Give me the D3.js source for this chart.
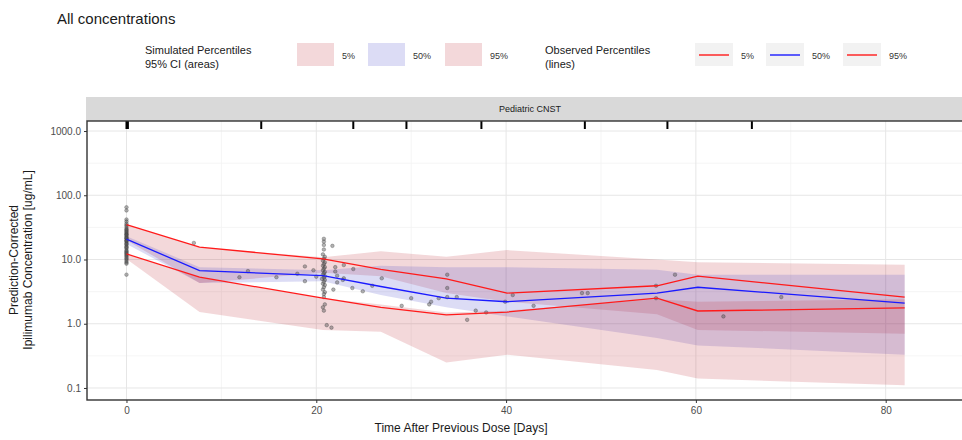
<!DOCTYPE html>
<html>
<head>
<meta charset="utf-8">
<script src="https://cdn.jsdelivr.net/npm/d3@7"></script>
<style>
  body { margin: 0; background: #fff; }
  text { font-family: "Liberation Sans", Arial, Helvetica, sans-serif; }
</style>
</head>
<body>
<svg id="chart" width="962" height="440"></svg>
<script>
// Bin median times (days) shared by observed and simulated percentiles
const binTimes = [0, 7.7, 20.7, 26.8, 33.7, 40.1, 55.9, 60.2, 82.0];

// Observed percentiles (lines)
const obsP95 = [35, 15.6, 10.2, 7.0, 5.0, 3.0, 3.9, 5.5, 2.6];
const obsP50 = [20.8, 6.7, 5.6, 3.8, 2.5, 2.2, 3.0, 3.7, 2.1];
const obsP05 = [12.2, 5.3, 2.5, 1.8, 1.37, 1.52, 2.5, 1.58, 1.76];

// Simulated percentiles, 95% CI (areas)
const simP95Hi = [35, 15.5, 10.8, 13.5, 11, 14, 10, 9.1, 8.3];
const simP95Lo = [20, 4.3, 6.2, 5.5, 3.0, 2.2, 1.4, 0.8, 0.7];
const simP50Hi = [23, 7.6, 6.8, 8.0, 7.6, 7.6, 6.9, 5.8, 5.8];
const simP50Lo = [17.5, 4.3, 4.6, 2.8, 1.8, 1.3, 0.6, 0.46, 0.33];
const simP05Hi = [12.2, 5.3, 2.5, 2.0, 1.5, 1.6, 2.4, 2.2, 2.4];
const simP05Lo = [10.2, 1.52, 0.8, 0.75, 0.25, 0.33, 0.19, 0.14, 0.11];

// Bin boundaries shown as a rug along the top of the panel
const binEdges = [0, 0.15, 14.2, 23.9, 29.5, 37.4, 48.3, 57.0, 65.9];

// Prediction-corrected observations
const obsTime = [
  0,0,0,0,0,0,0,0,0,0,0,0,0,0,0,0,0,0,0,0,0,0,0,0,0,0,0,0,0,0,0,0,0,0,0,0,0,0,0,0,0,
  7.1, 11.9, 12.8, 15.8, 18.0, 18.8, 18.8, 19.7, 20.0,
  20.8,20.8,20.8,20.8,20.7,20.9,20.8,20.7,20.9,20.8,20.7,20.9,20.8,20.7,20.9,20.8,20.7,20.9,
  20.8,20.6,20.9,20.8,20.7,20.9,20.8,20.7,20.9,20.8,20.8,20.9,20.7,20.8,21.1,21.6,21.7,
  22.0,22.0,22.2,22.9,22.9,22.8,23.9,23.8,24.9,25.9,26.9,21.8,22.2,
  29.0,30.0,31.9,32.1,32.9,33.8,33.8,33.8,34.8,35.9,36.8,37.9,39.9,40.7,42.9,48.0,48.6,
  55.8,55.8,57.8,62.9,69.0
];
const obsConc = [
  65,58,42,39,36,34,32,30,29,28,27,26,25,24.5,24,23,22,21.5,21,20,19.5,19,18,17.5,17,16,15.5,15,
  14,13.5,13,12.5,12,11.5,11,10.5,10,9.5,9,8.6,5.8,
  18.1, 5.3, 6.6, 5.3, 6.0, 7.8, 4.6, 6.8, 5.4,
  21,19,16.8,14.3,12,11,10.3,9.6,9,8.5,8,7.6,7.2,6.8,6.4,6.1,5.8,5.5,
  5.2,5,4.8,4.5,4.2,4,3.7,3.4,3.1,2.9,2.6,2.0,1.8,1.6,0.95,0.87,16.3,
  7.6,6.5,5.6,8.2,5.1,4.8,7.1,3.6,3.2,3.9,5.1,3.4,4.4,
  1.9,2.5,2.0,2.2,2.5,5.8,3.6,2.6,2.6,1.15,1.6,1.5,2.2,2.8,1.9,3.0,3.0,
  3.9,2.5,5.8,1.3,2.6
];

const xTicks = [0, 20, 40, 60, 80];
const xMinor = [10, 30, 50, 70];
const yTicks = [0.1, 1, 10, 100, 1000];
const yMinor = [0.316, 3.16, 31.6, 316];

const simLabels = ["5%", "50%", "95%"];
const obsLabels = ["5%", "50%", "95%"];

const pinkFill = "rgb(190,40,50)";
const blueFill = "rgb(60,60,200)";
const bandOpacity = 0.18;

const svg = d3.select("#chart");
const panel = { left: 87, right: 973, top: 121, bottom: 400 };

const x = d3.scaleLinear().domain([-4.16, 89.2]).range([panel.left, panel.right]);
const y = d3.scaleLog().domain([0.065, 1432]).range([panel.bottom, panel.top]);

// Title
svg.append("text").attr("x", 57).attr("y", 24)
  .attr("font-size", 15).attr("fill", "#1a1a1a").text("All concentrations");

// Legends
const lg = svg.append("g").attr("font-size", 11).attr("fill", "#1a1a1a");
lg.append("text").attr("x", 145).attr("y", 54).text("Simulated Percentiles");
lg.append("text").attr("x", 145).attr("y", 68).text("95% CI (areas)");
const simKeyX = [297, 368, 445];
const simKeyFill = [pinkFill, blueFill, pinkFill];
simLabels.forEach((l, i) => {
  lg.append("rect").attr("x", simKeyX[i]).attr("y", 43).attr("width", 37).attr("height", 23)
    .attr("fill", simKeyFill[i]).attr("fill-opacity", bandOpacity);
  lg.append("text").attr("x", simKeyX[i] + 45).attr("y", 58.5)
    .attr("font-size", 9).attr("fill", "#333").text(l);
});
lg.append("text").attr("x", 545).attr("y", 54).text("Observed Percentiles");
lg.append("text").attr("x", 545).attr("y", 68).text("(lines)");
const obsKeyX = [695, 766, 843];
const obsKeyColor = ["#ff1a1a", "#1a1aff", "#ff1a1a"];
obsLabels.forEach((l, i) => {
  lg.append("rect").attr("x", obsKeyX[i]).attr("y", 43).attr("width", 38).attr("height", 23)
    .attr("fill", "#f2f2f2");
  lg.append("line").attr("x1", obsKeyX[i] + 4).attr("x2", obsKeyX[i] + 34)
    .attr("y1", 55).attr("y2", 55).attr("stroke", obsKeyColor[i]).attr("stroke-width", 1.4);
  lg.append("text").attr("x", obsKeyX[i] + 46).attr("y", 58.5)
    .attr("font-size", 9).attr("fill", "#333").text(l);
});

// Strip
svg.append("rect").attr("x", panel.left - 1).attr("y", 97)
  .attr("width", panel.right - panel.left + 2).attr("height", panel.top - 97)
  .attr("fill", "#d9d9d9");
svg.append("text").attr("x", (panel.left + panel.right) / 2).attr("y", 112)
  .attr("text-anchor", "middle").attr("font-size", 9).attr("fill", "#1a1a1a")
  .text("Pediatric CNST");

// Panel clip
svg.append("defs").append("clipPath").attr("id", "clip")
  .append("rect").attr("x", panel.left).attr("y", panel.top)
  .attr("width", panel.right - panel.left).attr("height", panel.bottom - panel.top);

const grid = svg.append("g");
xMinor.forEach(v => grid.append("line").attr("x1", x(v)).attr("x2", x(v))
  .attr("y1", panel.top).attr("y2", panel.bottom).attr("stroke", "#f2f2f2").attr("stroke-width", 0.8));
yMinor.forEach(v => grid.append("line").attr("x1", panel.left).attr("x2", panel.right)
  .attr("y1", y(v)).attr("y2", y(v)).attr("stroke", "#f2f2f2").attr("stroke-width", 0.8));
xTicks.forEach(v => grid.append("line").attr("x1", x(v)).attr("x2", x(v))
  .attr("y1", panel.top).attr("y2", panel.bottom).attr("stroke", "#e6e6e6").attr("stroke-width", 1));
yTicks.forEach(v => grid.append("line").attr("x1", panel.left).attr("x2", panel.right)
  .attr("y1", y(v)).attr("y2", y(v)).attr("stroke", "#e6e6e6").attr("stroke-width", 1));

const plot = svg.append("g").attr("clip-path", "url(#clip)");

// Simulated bands
const band = (lo, hi) => d3.area()
  .x((d, i) => x(binTimes[i]))
  .y0((d, i) => y(lo[i]))
  .y1((d, i) => y(hi[i]))(binTimes);
[[simP95Lo, simP95Hi, pinkFill], [simP50Lo, simP50Hi, blueFill], [simP05Lo, simP05Hi, pinkFill]]
  .forEach(([lo, hi, c]) => plot.append("path").attr("d", band(lo, hi))
    .attr("fill", c).attr("fill-opacity", bandOpacity));

// Observations
plot.append("g").selectAll("circle").data(obsTime).join("circle")
  .attr("cx", d => x(d)).attr("cy", (d, i) => y(obsConc[i])).attr("r", 1.8)
  .attr("fill", "#555").attr("fill-opacity", 0.45)
  .attr("stroke", "#333").attr("stroke-opacity", 0.5).attr("stroke-width", 0.6);

// Observed percentile lines
const line = vals => d3.line().x((d, i) => x(binTimes[i])).y((d, i) => y(vals[i]))(binTimes);
[[obsP05, "#ff1a1a"], [obsP95, "#ff1a1a"], [obsP50, "#1a1aff"]].forEach(([v, c]) =>
  plot.append("path").attr("d", line(v)).attr("fill", "none")
    .attr("stroke", c).attr("stroke-width", 1.3));

// Bin rug
plot.append("g").selectAll("line").data(binEdges).join("line")
  .attr("x1", d => x(d)).attr("x2", d => x(d))
  .attr("y1", panel.top).attr("y2", panel.top + 8)
  .attr("stroke", "#000").attr("stroke-width", 2);

// Panel border
svg.append("rect").attr("x", panel.left).attr("y", panel.top)
  .attr("width", panel.right - panel.left).attr("height", panel.bottom - panel.top)
  .attr("fill", "none").attr("stroke", "#333").attr("stroke-width", 1.4);

// Axes
const yAxis = svg.append("g").attr("transform", `translate(${panel.left},0)`)
  .call(d3.axisLeft(y).tickValues(yTicks).tickFormat(d3.format(".1f")).tickSize(3).tickPadding(3));
const xAxis = svg.append("g").attr("transform", `translate(0,${panel.bottom})`)
  .call(d3.axisBottom(x).tickValues(xTicks).tickFormat(d3.format("d")).tickSize(3).tickPadding(4));
[yAxis, xAxis].forEach(a => {
  a.select(".domain").remove();
  a.selectAll(".tick line").attr("stroke", "#333");
  a.selectAll(".tick text").attr("fill", "#4d4d4d").attr("font-size", 10)
    .attr("font-family", "Liberation Sans, Arial, sans-serif");
});

// Axis titles
svg.append("text").attr("x", 461).attr("y", 432).attr("text-anchor", "middle")
  .attr("font-size", 12).attr("fill", "#1a1a1a").text("Time After Previous Dose [Days]");
const yt = svg.append("text").attr("transform", "translate(0,260) rotate(-90)")
  .attr("text-anchor", "middle").attr("font-size", 12).attr("fill", "#1a1a1a");
yt.append("tspan").attr("x", 0).attr("y", 18).text("Prediction-Corrected");
yt.append("tspan").attr("x", 0).attr("y", 32).text("Ipilimumab Concentration [ug/mL]");
</script>
</body>
</html>
